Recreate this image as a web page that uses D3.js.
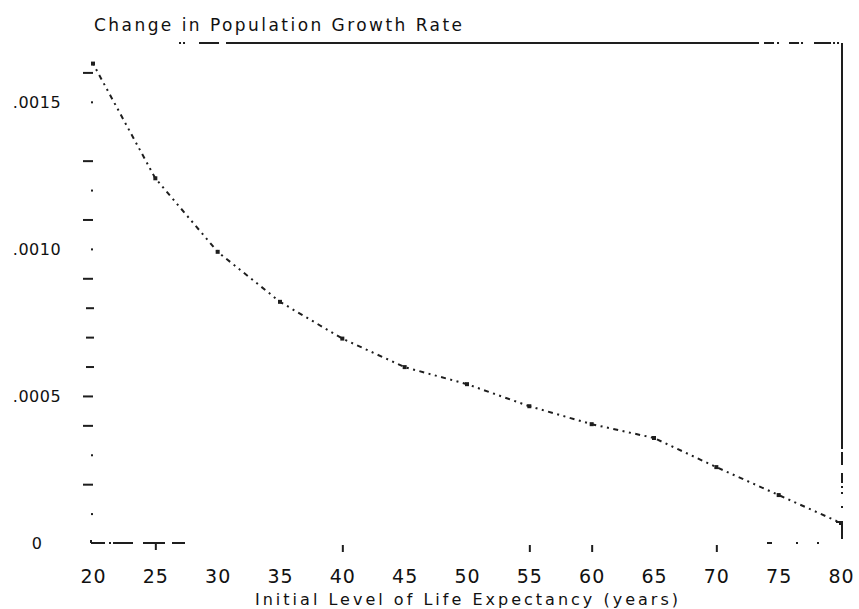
<!DOCTYPE html>
<html>
<head>
<meta charset="utf-8">
<script src="https://cdn.jsdelivr.net/npm/d3@7"></script>
<style>
  html, body { margin: 0; padding: 0; background: #fff; }
  svg { display: block; }
  text { font-family: "DejaVu Sans", sans-serif; fill: #111; }
</style>
</head>
<body>
<svg id="chart" width="859" height="609"></svg>
<script>
// Initial life expectancy (years) and the resulting change in population growth rate
const lifeExpectancy = [20, 25, 30, 35, 40, 45, 50, 55, 60, 65, 70, 75, 80];
const growthChange = [0.00163, 0.00124, 0.00099, 0.00082, 0.000695, 0.000598, 0.00054,
                      0.000465, 0.000404, 0.000357, 0.000258, 0.000163, 0.000068];

const xTickLabels = [20, 25, 30, 35, 40, 45, 50, 55, 60, 65, 70, 75, 80];
const xTickMarks = [25, 40, 55, 60, 70];
const yLabelValues = [0, 0.0005, 0.0010, 0.0015];
const yTickMarks = [0.0001, 0.0002, 0.0003, 0.0004, 0.0005, 0.0006, 0.0007, 0.0008,
                    0.0009, 0.0010, 0.0011, 0.0012, 0.0013, 0.0015, 0.0016];
const yDotMarks = [0.0001, 0.0003, 0.0010, 0.0012, 0.0015];

const titleText = "Change in Population Growth Rate";
const xTitleText = "Initial Level of Life Expectancy (years)";

const svg = d3.select("#chart");
const ink = "#1e1e1e";
const textInk = "#111";

const x = d3.scaleLinear().domain([20, 80]).range([93, 841]);
const y = d3.scaleLinear().domain([0, 0.0017]).range([543, 43]);

const x0 = x(20), x1 = x(80), yb = y(0), yt = y(0.0017);

// Frame: broken dash-dot border on the top, right and bottom
const frame = svg.append("g").attr("fill", "none").attr("stroke", ink).attr("stroke-width", 2);
frame.append("path")
  .attr("d", `M${x(26.9)},${yt}H${x1 + 1}`)
  .attr("stroke-dasharray", "2,2,2,14,20,7,533,5,10,3,2,10,10,2,2,11,17,2,2,2,2,4");
frame.append("path")
  .attr("d", `M${x1 + 1},${yt}V${yb - 4}`)
  .attr("stroke-dasharray", "406,3,13,8,10,3,2,4,2,12,2,14,17");
frame.append("path")
  .attr("d", `M${x1 - 5},${yb - 21}H${x1 + 1}`);
frame.append("path")
  .attr("d", `M${x0 - 2},${yb - 3}V${yb}H${x1 + 1}`)
  .attr("stroke-dasharray", "3,0,14,4,2,2,20,10,22,7,13,582,5,24,2,19,2,23");

// Y axis: short tick marks (dashes and dots), then the value labels
const yTicks = d3.axisLeft(y).tickValues(yTickMarks).tickSize(0).tickFormat("");
const yTickG = svg.append("g").call(yTicks);
yTickG.select(".domain").remove();
yTickG.selectAll(".tick").each(function(d) {
  const g = d3.select(this);
  const isDot = yDotMarks.some(v => Math.abs(v - d) < 1e-9);
  const isShort = d >= 0.0006 && d <= 0.0008;
  g.append("rect")
    .attr("x", isDot ? 91 : (isShort ? 86 : 83))
    .attr("y", -1)
    .attr("width", isDot ? 2 : (isShort ? 8 : 10))
    .attr("height", 2)
    .attr("fill", ink);
});

const fmtY = d => d === 0 ? "0" : d3.format(".4f")(d).replace(/^0/, "");
const yLabels = d3.axisLeft(y).tickValues(yLabelValues).tickSize(0).tickFormat(fmtY);
const yLabelG = svg.append("g").call(yLabels);
yLabelG.select(".domain").remove();
yLabelG.selectAll("text")
  .attr("x", 37).attr("dy", "0.36em")
  .attr("text-anchor", "middle")
  .style("font-family", "'DejaVu Sans', sans-serif")
  .style("font-size", "16px")
  .attr("letter-spacing", "0.5px")
  .attr("fill", textInk);

// X axis: scattered tick marks and the year labels
const xTicks = d3.axisBottom(x).tickValues(xTickMarks).tickSize(0).tickFormat("");
const xTickG = svg.append("g").attr("transform", `translate(0,${yb})`).call(xTicks);
xTickG.select(".domain").remove();
xTickG.selectAll(".tick").append("rect")
  .attr("x", -1).attr("y", d => d === 25 ? 0 : 2)
  .attr("width", 2).attr("height", 7)
  .attr("fill", ink);

const xLabels = d3.axisBottom(x).tickValues(xTickLabels).tickSize(0).tickFormat(d3.format("d"));
const xLabelG = svg.append("g").attr("transform", `translate(0,${yb})`).call(xLabels);
xLabelG.select(".domain").remove();
xLabelG.selectAll("text")
  .attr("y", 40).attr("dy", 0)
  .style("font-family", "'DejaVu Sans', sans-serif")
  .style("font-size", "19px")
  .attr("letter-spacing", "1px")
  .attr("fill", textInk);

// Data line: dotted trace with small square markers at each value
const pts = lifeExpectancy.map((a, i) => [a, growthChange[i]]);
const line = d3.line().x(d => x(d[0])).y(d => y(d[1]));
svg.append("path")
  .datum(pts)
  .attr("d", line)
  .attr("fill", "none")
  .attr("stroke", ink)
  .attr("stroke-width", 2)
  .attr("stroke-dasharray", "2,4.5,2,4.5,5,4.5");

svg.append("g").selectAll("rect")
  .data(pts)
  .join("rect")
  .attr("x", d => x(d[0]) - 2)
  .attr("y", d => y(d[1]) - 2)
  .attr("width", 4).attr("height", 4)
  .attr("fill", ink);

// Titles
svg.append("text")
  .attr("x", 94).attr("y", 31)
  .attr("textLength", 368).attr("lengthAdjust", "spacing")
  .style("font-size", "17px")
  .text(titleText);

svg.append("text")
  .attr("x", 255).attr("y", 605)
  .attr("textLength", 423).attr("lengthAdjust", "spacing")
  .style("font-size", "16px")
  .text(xTitleText);
</script>
</body>
</html>
